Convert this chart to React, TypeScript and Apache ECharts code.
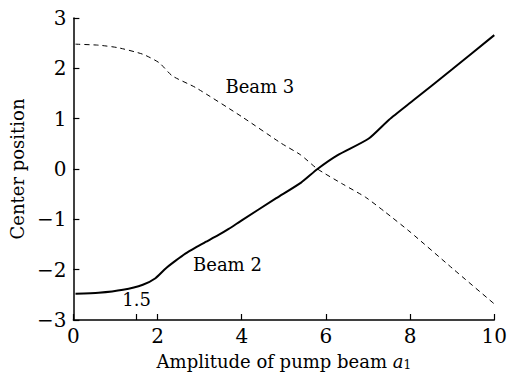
import React, { useEffect, useRef } from "react";
import * as echarts from "echarts";

const beam2X = [0.05, 0.6, 1.18, 1.65, 1.95, 2.2, 2.43, 2.66, 2.9, 3.14, 3.45, 3.69, 4.0, 4.82, 5.41, 5.8, 6.27, 7.01, 7.5, 8.07, 9.0, 10.0];
const beam2Y = [-2.48, -2.46, -2.4, -2.3, -2.17, -1.97, -1.82, -1.68, -1.56, -1.45, -1.31, -1.19, -1.02, -0.58, -0.27, 0.0, 0.27, 0.6, 0.98, 1.36, 1.98, 2.66];
const beam3X = [0.05, 0.6, 1.06, 1.65, 2.04, 2.35, 2.9, 4.0, 4.94, 5.4, 5.8, 6.4, 6.94, 7.4, 8.0, 9.0, 10.0];
const beam3Y = [2.48, 2.46, 2.41, 2.28, 2.11, 1.85, 1.62, 1.04, 0.51, 0.28, 0.0, -0.3, -0.56, -0.85, -1.25, -1.97, -2.68];
const xTicks = [0, 1.5, 2, 4, 6, 8, 10];
const xLabels = [0, 2, 4, 6, 8, 10];

const FONT = "DejaVu Serif";

export default function App() {
  const ref = useRef<HTMLDivElement>(null);
  useEffect(() => {
    const chart = echarts.init(ref.current!, null, { renderer: "svg" });
    chart.setOption({
      animation: false,
      backgroundColor: "#fff",
      grid: { left: 70.5, top: 18, right: 12, bottom: 53.3 },
      xAxis: {
        type: "value",
        min: 0,
        max: 10,
        interval: 2,
        name: "Amplitude of pump beam {i|a}{s|1}",
        nameLocation: "middle",
        nameGap: 31,
        nameTextStyle: {
          fontFamily: FONT,
          fontSize: 18,
          color: "#000",
          rich: {
            i: { fontFamily: FONT, fontSize: 18, fontStyle: "italic", color: "#000" },
            s: { fontFamily: FONT, fontSize: 12, color: "#000", verticalAlign: "bottom", padding: [8, 0, 0, 0] },
          },
        },
        axisLine: { onZero: false, lineStyle: { color: "#000", width: 1.5 } },
        axisTick: { inside: true, length: 6, customValues: xTicks, lineStyle: { color: "#000", width: 1.2 } },
        axisLabel: { customValues: xLabels, fontFamily: FONT, fontSize: 20, color: "#000", margin: 6 },
        splitLine: { show: false },
      },
      yAxis: {
        type: "value",
        min: -3,
        max: 3,
        interval: 1,
        name: "Center position",
        nameLocation: "middle",
        nameGap: 42,
        nameTextStyle: { fontFamily: FONT, fontSize: 18, color: "#000" },
        axisLine: { onZero: false, lineStyle: { color: "#000", width: 1.5 } },
        axisTick: { inside: true, length: 6, lineStyle: { color: "#000", width: 1.2 } },
        axisLabel: {
          fontFamily: FONT,
          fontSize: 20,
          color: "#000",
          margin: 7,
          formatter: (v: number) => (v < 0 ? "\u2212" + Math.abs(v) : String(v)),
        },
        splitLine: { show: false },
      },
      series: [
        {
          type: "line",
          data: beam2X.map((x, i) => [x, beam2Y[i]]),
          symbol: "none",
          smooth: 0.2,
          lineStyle: { color: "#000", width: 2 },
          markPoint: {
            symbol: "circle",
            symbolSize: 0,
            label: { show: true, fontFamily: FONT, fontSize: 18, color: "#000", position: "inside" },
            data: [
              { coord: [3.66, -1.9], value: "Beam 2", label: { formatter: "Beam 2" } },
              { coord: [1.5, -2.59], value: "1.5", label: { formatter: "1.5" } },
            ],
          },
        },
        {
          type: "line",
          data: beam3X.map((x, i) => [x, beam3Y[i]]),
          symbol: "none",
          smooth: 0.2,
          lineStyle: { color: "#000", width: 1, type: [5, 4] },
          markPoint: {
            symbol: "circle",
            symbolSize: 0,
            label: { show: true, fontFamily: FONT, fontSize: 18, color: "#000", position: "inside" },
            data: [{ coord: [4.43, 1.63], value: "Beam 3", label: { formatter: "Beam 3" } }],
          },
        },
      ],
    });
    return () => chart.dispose();
  }, []);
  return <div ref={ref} style={{ width: 510, height: 376, position: "absolute", left: 0, top: 0 }} />;
}
